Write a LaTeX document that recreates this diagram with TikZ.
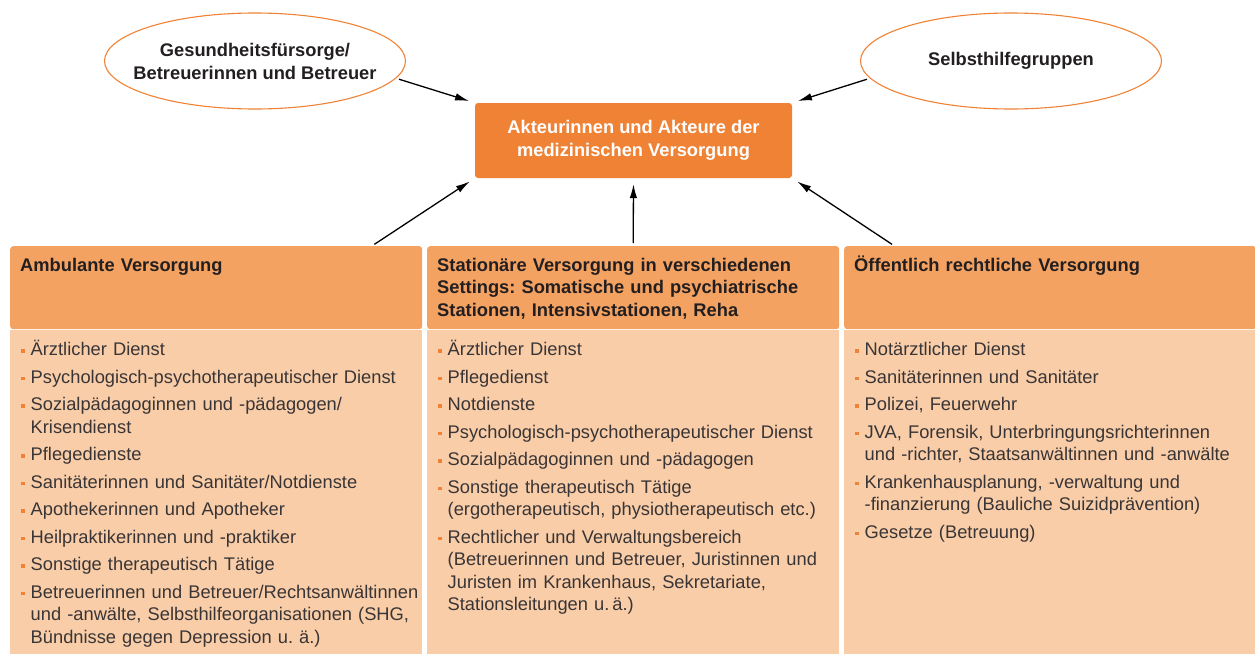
\documentclass[tikz,border=0pt]{standalone}
\usepackage{fontspec}
\setmainfont{Liberation Sans}
\usepackage{xcolor}
\usetikzlibrary{shapes,positioning,arrows.meta}

\definecolor{akzent}{RGB}{239,130,52}
\definecolor{kopfbg}{RGB}{244,162,98}
\definecolor{koerperbg}{RGB}{249,205,168}
\definecolor{schrift}{RGB}{35,31,32}

% Aufzaehlungspunkt: kleines oranges Quadrat
\newcommand{\marke}{\hangindent=9.5pt\hangafter=1\noindent\makebox[9.5pt][l]{\textcolor{akzent}{\rule[3pt]{3.5pt}{3.5pt}}}}
\newcommand{\pkt}{\par\marke}
% Zeile in der Ellipse (Breite fest, damit die Ellipse nicht waechst)
\newcommand{\zeile}[1]{\makebox[180pt]{#1}}

\begin{document}
\frenchspacing
\begin{tikzpicture}[x=1pt,y=-1pt,
        wolke/.style={draw=akzent,line width=1.1pt,ellipse,inner sep=0pt,minimum width=301pt,minimum height=96pt,
            align=center,text=schrift,font=\bfseries\fontsize{18.3}{23}\selectfont},
        kopf/.style={fill=kopfbg,rounded corners=3pt,anchor=north west,inner sep=0pt,text width=412pt,
            text height=25pt,text depth=58pt,align=left,text=schrift,font=\bfseries\fontsize{18.3}{22.5}\selectfont,
            execute at begin node={\leftskip=10pt\relax}},
        liste/.style={fill=koerperbg,anchor=north west,inner sep=0pt,text width=412pt,
            text height=26pt,text depth=298pt,align=left,text=schrift!90,font=\fontsize{18.3}{22.5}\selectfont,
            execute at begin node={\leftskip=11pt\parskip=5pt\relax}},
        pfeil/.style={-{Latex[length=14pt,width=7.5pt]},line width=1.3pt,shorten <=3pt,shorten >=6pt}]
        \useasboundingbox (0,0) rectangle (1255,653);

        % Obere Ellipsen
        \node[wolke] (ges) at (255,61) {\zeile{Gesundheitsfürsorge/}\\\zeile{Betreuerinnen und Betreuer}};
        \node[wolke] (selbst) at (1011,61) {\zeile{Selbsthilfegruppen}};

        % Mitte
        \node[fill=akzent,rounded corners=3pt,minimum width=317pt,minimum height=75pt,align=center,
            text=white,font=\bfseries\fontsize{18.3}{23}\selectfont] (akteure) at (633.5,140.5)
            {Akteurinnen und Akteure der\\medizinischen Versorgung};

        % Spaltenkoepfe
        \node[kopf] (amb) at (10,246) {Ambulante Versorgung};
        \node[kopf] (stat) at (427,246) {Stationäre Versorgung in verschiedenen\\Settings: Somatische und psychiatrische\\Stationen, Intensivstationen, Reha};
        \node[kopf] (oeff) at (844,246) {Öffentlich rechtliche Versorgung};

        % Spalteninhalte
        \node[liste] (ambliste) at (amb.south west) {%
            \marke Ärztlicher Dienst
            \pkt Psychologisch-psychotherapeutischer Dienst
            \pkt Sozialpädagoginnen und -pädagogen/\newline Krisendienst
            \pkt Pflegedienste
            \pkt Sanitäterinnen und Sanitäter/Notdienste
            \pkt Apothekerinnen und Apotheker
            \pkt Heilpraktikerinnen und -praktiker
            \pkt Sonstige therapeutisch Tätige
            \pkt Betreuerinnen und Betreuer/Rechtsanwältinnen\newline und -anwälte, Selbsthilfeorganisationen (SHG,\newline Bündnisse gegen Depression u. ä.)\par};
        \node[liste] (statliste) at (stat.south west) {%
            \marke Ärztlicher Dienst
            \pkt Pflegedienst
            \pkt Notdienste
            \pkt Psychologisch-psychotherapeutischer Dienst
            \pkt Sozialpädagoginnen und -pädagogen
            \pkt Sonstige therapeutisch Tätige\newline (ergotherapeutisch, physiotherapeutisch etc.)
            \pkt Rechtlicher und Verwaltungsbereich\newline (Betreuerinnen und Betreuer, Juristinnen und\newline Juristen im Krankenhaus, Sekretariate,\newline Stationsleitungen u.\,ä.)\par};
        \node[liste] (oeffliste) at (oeff.south west) {%
            \marke Notärztlicher Dienst
            \pkt Sanitäterinnen und Sanitäter
            \pkt Polizei, Feuerwehr
            \pkt JVA, Forensik, Unterbringungsrichterinnen\newline und -richter, Staatsanwältinnen und -anwälte
            \pkt Krankenhausplanung, -verwaltung und\newline -finanzierung (Bauliche Suizidprävention)
            \pkt Gesetze (Betreuung)\par};

        % Pfeile
        \foreach \von/\nach in {ges.-7/akteure.north west, selbst.187/akteure.north east,
                amb.15/akteure.south west, stat.north/akteure.south, oeff.165/akteure.south east} {
            \draw[pfeil] (\von) -- (\nach);
        }
    \end{tikzpicture}
\end{document}
